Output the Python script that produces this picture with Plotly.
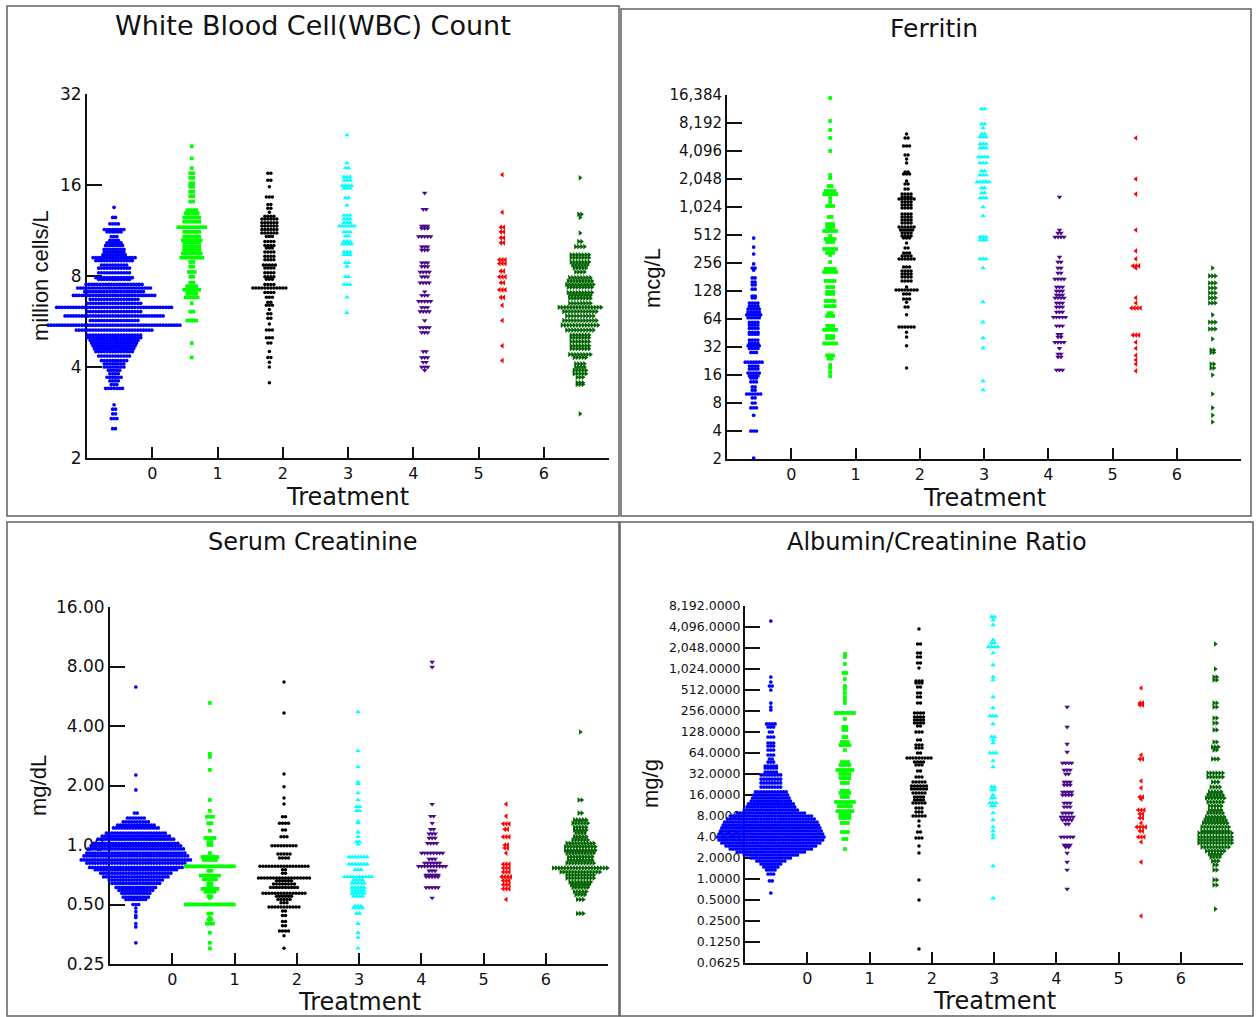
import math
import plotly.graph_objects as go

W, H = 1256, 1017

# ---------------- data: (value, count) rows for each treatment group ----------------
# White Blood Cell (WBC) Count, million cells/L
wbc_0 = [(13.5,1),(12.5,2),(11.9,4),(11.4,8),(11.2,6),(10.8,3),(10.5,4),(10.3,6),(10.1,7),(9.8,8),(9.6,8),(9.4,9),(9.2,16),(9.0,14),(8.7,10),(8.5,12),(8.2,12),(7.9,14),(7.8,12),(7.5,21),(7.3,27),(7.1,22),(6.9,30),(6.7,18),(6.5,20),(6.3,42),(6.1,20),(5.9,36),(5.7,18),(5.5,48),(5.3,28),(5.1,20),(5.0,20),(4.9,18),(4.8,17),(4.7,16),(4.6,15),(4.5,14),(4.35,12),(4.2,10),(4.1,8),(4.0,8),(3.9,5),(3.8,4),(3.7,6),(3.6,4),(3.5,3),(3.4,7),(3.0,1),(2.9,2),(2.8,2),(2.7,3),(2.5,2)]
wbc_1 = [(21.5,1),(19.6,1),(18.2,1),(17.5,2),(16.9,2),(16.2,2),(15.8,2),(15.2,2),(14.7,2),(14.1,2),(13.2,4),(12.9,5),(12.5,6),(12.1,6),(11.6,10),(11.2,6),(10.8,6),(10.5,7),(10.3,6),(10.0,6),(9.75,6),(9.5,7),(9.2,8),(8.9,2),(8.6,2),(8.25,3),(7.95,2),(7.6,2),(7.4,4),(7.2,6),(7.0,4),(6.8,5),(6.5,1),(6.1,2),(5.7,4),(4.8,1),(4.3,1)]
wbc_2 = [(17.5,2),(16.6,2),(15.8,1),(14.6,3),(13.8,2),(13.4,2),(13.0,1),(12.6,4),(12.35,6),(12.0,6),(11.7,6),(11.4,6),(11.1,6),(10.8,3),(10.4,4),(10.1,4),(9.9,3),(9.6,4),(9.3,4),(9.05,4),(8.7,5),(8.5,4),(8.2,4),(7.95,4),(7.8,3),(7.5,4),(7.3,12),(7.05,4),(6.8,3),(6.55,2),(6.4,3),(6.2,1),(6.0,2),(5.8,2),(5.55,1),(5.3,3),(5.0,3),(4.8,2),(4.5,1),(4.3,2),(4.15,1),(4.0,1),(3.55,1)]
wbc_3 = [(23.4,1),(18.9,1),(18.2,2),(17.0,3),(16.6,3),(15.9,4),(15.6,3),(14.5,2),(13.7,1),(12.7,3),(12.35,3),(12.0,3),(11.7,6),(11.2,3),(10.85,2),(10.4,3),(10.2,4),(9.6,3),(9.4,3),(8.85,2),(8.6,1),(7.95,2),(7.5,3),(6.8,1),(6.05,1)]
wbc_4 = [(15.05,1),(13.3,2),(11.7,3),(11.5,3),(10.8,5),(10.0,3),(9.75,3),(8.85,3),(8.6,3),(8.25,4),(7.95,3),(7.6,4),(7.1,1),(6.9,3),(6.6,5),(6.3,3),(6.1,4),(5.7,1),(5.4,4),(5.2,3),(4.5,2),(4.3,3),(4.15,2),(4.0,3),(3.9,1)]
wbc_5 = [(17.3,1),(13.0,1),(11.6,2),(11.2,2),(10.7,2),(10.3,2),(9.05,3),(8.8,3),(8.3,2),(7.95,3),(7.6,2),(7.2,3),(6.8,2),(6.4,1),(5.7,1),(4.7,1),(4.2,1)]
wbc_6 = [(16.9,1),(12.8,2),(12.5,1),(11.1,1),(10.4,2),(10.0,4),(9.4,7),(9.2,7),(8.9,7),(8.7,6),(8.5,5),(8.25,4),(7.9,8),(7.7,9),(7.5,10),(7.35,9),(7.05,9),(6.9,8),(6.75,8),(6.5,8),(6.3,15),(6.1,12),(5.9,10),(5.7,12),(5.5,13),(5.3,10),(5.1,7),(5.0,7),(4.85,7),(4.7,7),(4.6,7),(4.4,8),(4.3,5),(4.1,4),(4.0,4),(3.9,5),(3.8,5),(3.7,3),(3.55,3),(3.5,3),(2.8,1)]

# Ferritin, mcg/L
fer_0 = [(475,1),(380,1),(320,1),(250,1),(226,2),(215,1),(177,2),(160,2),(149,2),(134,2),(113,2),(108,2),(95,4),(88,4),(82,5),(76,5),(71,6),(66,5),(59,4),(55,4),(51,4),(46,4),(44,4),(38,4),(35,4),(33,5),(31,4),(28,3),(22,7),(20,4),(18.6,4),(16.8,5),(15.6,4),(14.9,3),(13.5,3),(11.9,2),(11.0,2),(10.0,6),(9.1,2),(8.0,2),(7.1,3),(5.9,1),(4.0,3),(2.05,1)]
fer_1 = [(15220,1),(8610,1),(6890,1),(5650,1),(4096,1),(2260,1),(2100,1),(1720,2),(1520,4),(1410,5),(1280,1),(1160,1),(1050,3),(800,2),(672,3),(624,3),(565,5),(500,1),(464,4),(431,3),(362,5),(328,3),(312,1),(262,1),(221,4),(205,5),(164,4),(141,3),(125,3),(119,3),(100,4),(88,4),(74,2),(69,3),(54,3),(49,5),(42,3),(40,3),(35,5),(26,3),(24,2),(20.5,1),(19.0,1),(17.2,1),(15.6,1)]
fer_2 = [(6240,1),(5650,2),(4640,3),(3710,2),(3360,1),(3040,1),(2440,2),(2320,3),(1950,1),(1810,2),(1600,2),(1410,4),(1310,4),(1250,6),(1160,4),(1076,4),(999,4),(861,4),(800,4),(742,4),(689,4),(624,6),(580,5),(538,4),(500,4),(475,3),(420,1),(371,2),(328,3),(304,4),(283,6),(232,3),(210,4),(195,4),(181,4),(164,4),(141,1),(131,8),(119,3),(105,3),(97,1),(86,2),(71,1),(52.5,6),(46,1),(41,1),(33,1),(19,1)]
fer_3 = [(11585,2),(7990,2),(7235,1),(6240,2),(5790,3),(4870,3),(4410,3),(3530,4),(3040,3),(2500,2),(2260,3),(1900,5),(1640,2),(1450,2),(1280,3),(1024,1),(820,1),(487,3),(452,3),(283,3),(226,1),(97.5,1),(59,1),(40,1),(31,1),(13.8,1),(11.0,1)]
fer_4 = [(1310,1),(580,1),(538,2),(487,4),(297,1),(262,2),(226,2),(200,2),(172,4),(141,3),(128,3),(116,3),(108,4),(95,3),(86,3),(76,3),(67,5),(54,3),(44,2),(41,2),(36,4),(31,1),(27,2),(25,2),(18.1,3)]
fer_5 = [(5650,1),(2048,1),(1410,1),(580,1),(345,1),(283,1),(238,3),(226,1),(108,1),(95,1),(84,4),(43,3),(36,1),(31,1),(26,1),(23.2,1),(21,1),(17.7,1)]
fer_6 = [(226,1),(186,3),(156,3),(138,3),(122,3),(108,3),(95,3),(71,1),(59,3),(50,3),(39,1),(29.7,2),(28,2),(21,2),(19,2),(16,1),(10.0,1),(7.1,1),(5.9,1),(5.0,1),(2.0,1)]

# Serum Creatinine, mg/dL
scr_0 = [(6.3,1),(2.26,1),(1.9,1),(1.45,2),(1.37,7),(1.31,10),(1.26,14),(1.22,17),(1.15,22),(1.11,25),(1.07,28),(1.02,31),(0.99,33),(0.955,35),(0.91,36),(0.88,38),(0.84,40),(0.81,36),(0.77,34),(0.75,30),(0.72,26),(0.69,24),(0.665,20),(0.64,18),(0.61,15),(0.59,13),(0.57,11),(0.545,10),(0.53,8),(0.50,3),(0.48,1),(0.46,1),(0.44,1),(0.43,1),(0.40,1),(0.385,1),(0.32,1)]
scr_1 = [(5.23,1),(2.89,1),(2.79,1),(2.40,1),(1.69,1),(1.49,1),(1.39,3),(1.29,2),(1.18,1),(1.085,4),(1.035,2),(1.0,2),(0.91,1),(0.87,6),(0.84,5),(0.78,17),(0.74,2),(0.70,7),(0.67,5),(0.64,2),(0.62,2),(0.60,6),(0.58,4),(0.55,2),(0.54,1),(0.50,17),(0.45,2),(0.43,1),(0.42,2),(0.40,3),(0.36,1),(0.32,1),(0.30,1)]
scr_2 = [(6.68,1),(4.65,1),(2.29,1),(1.97,1),(1.73,1),(1.61,1),(1.39,2),(1.29,4),(1.19,2),(1.10,3),(0.99,9),(0.90,5),(0.86,4),(0.78,17),(0.75,2),(0.72,2),(0.68,18),(0.66,6),(0.635,8),(0.61,10),(0.57,15),(0.55,6),(0.53,5),(0.51,3),(0.486,11),(0.464,2),(0.44,2),(0.41,2),(0.39,2),(0.367,4),(0.347,1),(0.30,1)]
scr_3 = [(4.71,1),(2.99,1),(2.48,1),(2.08,1),(2.04,1),(1.83,1),(1.69,1),(1.56,2),(1.49,2),(1.31,1),(1.29,1),(1.16,1),(1.10,1),(1.035,2),(1.01,1),(0.87,7),(0.80,7),(0.75,3),(0.69,10),(0.665,4),(0.64,5),(0.61,5),(0.59,5),(0.57,5),(0.55,4),(0.49,3),(0.48,4),(0.45,2),(0.40,1),(0.36,1),(0.34,1),(0.30,1)]
scr_4 = [(8.43,1),(7.95,1),(1.61,1),(1.40,2),(1.29,1),(1.20,2),(1.14,3),(1.085,3),(1.02,4),(0.91,8),(0.85,3),(0.81,6),(0.78,10),(0.74,3),(0.705,5),(0.69,5),(0.61,5),(0.54,1)]
scr_5 = [(1.61,1),(1.40,1),(1.28,3),(1.20,2),(1.10,3),(1.0,2),(0.966,2),(0.91,1),(0.80,3),(0.765,3),(0.73,3),(0.69,4),(0.66,3),(0.63,3),(0.60,3),(0.53,1)]
scr_6 = [(3.73,1),(1.69,2),(1.45,2),(1.34,5),(1.29,6),(1.23,5),(1.19,5),(1.15,4),(1.10,5),(1.06,6),(1.02,10),(0.98,11),(0.94,11),(0.91,10),(0.87,9),(0.84,9),(0.81,10),(0.765,19),(0.73,14),(0.705,10),(0.68,10),(0.65,8),(0.63,7),(0.61,6),(0.58,5),(0.56,4),(0.53,3),(0.45,3)]

# Albumin/Creatinine Ratio, mg/g
acr_0 = [(4995,1),(786,1),(667,1),(584,2),(512,1),(333,1),(292,1),(265,1),(167,4),(151,3),(128,2),(108.5,3),(89,3),(80.6,3),(70.7,3),(59.9,3),(52.5,2),(47.5,3),(41.7,5),(39.0,5),(34.2,5),(31.0,8),(27.1,8),(23.8,8),(20.8,8),(17.7,12),(16.0,13),(14.5,14),(13.1,15),(11.9,17),(10.8,18),(9.75,20),(8.83,25),(8.0,30),(7.24,32),(6.56,34),(5.94,35),(5.39,36),(4.88,37),(4.42,38),(4.0,39),(3.62,38),(3.28,36),(2.97,33),(2.69,30),(2.44,25),(2.21,20),(2.0,15),(1.81,11),(1.64,8),(1.49,6),(1.35,4),(1.18,3),(0.94,2),(0.63,1)]
acr_1 = [(1680,1),(1521,1),(1208,1),(898,2),(736,1),(584,1),(529,1),(464,1),(406,1),(368,1),(333,1),(240,7),(197,1),(151,2),(137,2),(108.5,2),(92,3),(83,4),(70.7,1),(47.5,3),(43.1,4),(36.5,6),(32,4),(28.0,4),(23.8,3),(18.3,3),(17.1,4),(15.0,3),(12.7,7),(11.1,5),(9.4,6),(8.3,4),(7.5,4),(6.35,3),(4.72,3),(3.74,2),(2.69,1)]
acr_2 = [(3835,1),(2337,2),(1737,2),(1521,2),(1249,2),(1059,1),(689,3),(645,3),(565,2),(464,2),(406,2),(333,2),(240,4),(210,4),(190,4),(172,4),(156,2),(128,3),(98,2),(83,3),(75.5,3),(64,2),(54.3,9),(47.5,4),(43.1,3),(35.3,2),(29.0,3),(24.6,5),(21.5,6),(19.5,6),(17.1,5),(15.0,4),(13.6,4),(12.3,5),(10.4,3),(9.1,3),(8.0,5),(6.8,1),(5.75,1),(4.72,2),(3.87,3),(2.97,1),(2.36,1),(0.97,1),(0.5,1),(0.099,1)]
acr_3 = [(5700,2),(5160,1),(4375,1),(2667,1),(2416,2),(2117,4),(1737,1),(1168,1),(786,1),(712,1),(406,1),(283,1),(217,3),(167,1),(108.5,2),(98,1),(89,1),(64,3),(49.1,1),(40.3,1),(20.8,2),(18.9,2),(16.0,1),(14.5,2),(12.3,3),(11.1,2),(8.83,1),(7.0,1),(5.56,1),(4.88,1),(4.27,1),(3.87,1),(1.54,1),(0.53,1)]
acr_4 = [(292,1),(151,1),(86.2,1),(66.2,1),(46.0,4),(36.5,3),(32,2),(24.6,3),(22.3,3),(17.7,4),(16,4),(12.3,3),(10.8,3),(8.83,4),(7.74,5),(7.0,4),(6.14,2),(4.0,5),(3.07,3),(2.87,2),(2.36,1),(1.75,1),(1.35,1),(0.72,1)]
acr_5 = [(547,1),(333,2),(312,2),(59.9,1),(52.5,2),(25.4,1),(20.2,1),(15.0,2),(14.0,1),(9.75,3),(8.55,2),(7.5,2),(6.35,1),(5.56,4),(4.88,2),(4.0,3),(3.39,1),(1.75,1),(0.295,1)]
acr_6 = [(2337,1),(1024,1),(786,2),(712,2),(333,2),(292,2),(203,2),(172,2),(137,2),(92,2),(78,3),(70.7,2),(52.5,3),(33.1,6),(29.0,6),(24.6,3),(20.8,4),(17.7,5),(16.0,6),(14.5,7),(12.7,6),(11.1,5),(9.75,5),(8.83,6),(7.74,7),(7.0,8),(6.35,9),(5.56,10),(4.88,10),(4.56,12),(4.0,12),(3.62,12),(3.28,12),(2.87,10),(2.52,7),(2.28,5),(2.07,4),(1.81,3),(1.59,2),(1.35,2),(0.97,2),(0.82,2),(0.37,1)]

# axis ticks / labels
treatment_labels = ["0", "1", "2", "3", "4", "5", "6", ""]
wbc_ticks = [2, 4, 8, 16, 32]
wbc_ticklabels = ["2", "4", "8", "16", "32"]
fer_ticks = [2, 4, 8, 16, 32, 64, 128, 256, 512, 1024, 2048, 4096, 8192, 16384]
fer_ticklabels = ["2", "4", "8", "16", "32", "64", "128", "256", "512", "1,024", "2,048", "4,096", "8,192", "16,384"]
scr_ticks = [0.25, 0.5, 1, 2, 4, 8, 16]
scr_ticklabels = ["0.25", "0.50", "1.00", "2.00", "4.00", "8.00", "16.00"]
acr_ticks = [0.0625, 0.125, 0.25, 0.5, 1, 2, 4, 8, 16, 32, 64, 128, 256, 512, 1024, 2048, 4096, 8192]
acr_ticklabels = ["0.0625", "0.1250", "0.2500", "0.5000", "1.0000", "2.0000", "4.0000", "8.0000",
                  "16.0000", "32.0000", "64.0000", "128.0000", "256.0000", "512.0000",
                  "1,024.0000", "2,048.0000", "4,096.0000", "8,192.0000"]

# ---------------- styling ----------------
COLORS = ["#0000FF", "#00FF00", "#000000", "#00FFFF", "#4B0A8A", "#FF0000", "#006400"]
SYMBOLS = ["circle", "square", "circle", "triangle-up", "triangle-down", "triangle-left", "triangle-right"]
SIZES = [3.7, 3.7, 3.5, 4.9, 4.9, 4.9, 4.9]
SPACING = [2.8, 3.0, 3.0, 3.0, 3.0, 3.0, 3.0]
TXT = "DejaVu Sans"
YTXT = "Liberation Sans, Arial"
INK = "#111111"

panels = [
    dict(groups=[wbc_0, wbc_1, wbc_2, wbc_3, wbc_4, wbc_5, wbc_6], x0=87, x1=609, ytop=94, ybot=458,
         yr=(2, 32), ticks=wbc_ticks, labels=wbc_ticklabels, yfs=17,
         title="White Blood Cell(WBC) Count", tx=313, ty=26, tfs=27,
         ytitle="million cells/L", ytx=40, yty=276, xtx=347, xty=497,
         box=(7, 6, 619, 516)),
    dict(groups=[fer_0, fer_1, fer_2, fer_3, fer_4, fer_5, fer_6], x0=727, x1=1241, ytop=95, ybot=459,
         yr=(2, 16384), ticks=fer_ticks, labels=fer_ticklabels, yfs=15,
         title="Ferritin", tx=934, ty=28, tfs=25,
         ytitle="mcg/L", ytx=652, yty=278, xtx=984, xty=498,
         box=(621, 9, 1251, 516)),
    dict(groups=[scr_0, scr_1, scr_2, scr_3, scr_4, scr_5, scr_6], x0=110, x1=608, ytop=607, ybot=964,
         yr=(0.25, 16), ticks=scr_ticks, labels=scr_ticklabels, yfs=17,
         title="Serum Creatinine", tx=313, ty=542, tfs=24,
         ytitle="mg/dL", ytx=38, yty=786, xtx=359, xty=1002,
         box=(7, 522, 619, 1016)),
    dict(groups=[acr_0, acr_1, acr_2, acr_3, acr_4, acr_5, acr_6], x0=745, x1=1243, ytop=606, ybot=963,
         yr=(0.0625, 8192), ticks=acr_ticks, labels=acr_ticklabels, yfs=12.5,
         title="Albumin/Creatinine Ratio", tx=937, ty=542, tfs=24,
         ytitle="mg/g", ytx=650, yty=784, xtx=994, xty=1001,
         box=(620, 522, 1253, 1016)),
]

GROUP_POS = [-0.585 + 1.19 * k for k in range(7)]

fig = go.Figure()
layout = dict(width=W, height=H, autosize=False,
              margin=dict(l=0, r=0, t=0, b=0, pad=0, autoexpand=False),
              paper_bgcolor="white", plot_bgcolor="rgba(0,0,0,0)", showlegend=False)
shapes, annotations = [], []

# empty traces so that every visible axis pair forms a drawn subplot
for p_i in range(4):
    n = "" if p_i == 0 else str(p_i + 1)
    fig.add_trace(go.Scatter(x=[], y=[], mode="markers", xaxis="x" + n, yaxis="y" + n,
                             hoverinfo="skip"))

for p_i, p in enumerate(panels):
    n = "" if p_i == 0 else str(p_i + 1)
    dn = str(p_i + 5)  # hidden axes used for the dots (wider so swarms may cross the y axis line)
    xa, ya, xd, yd = "x" + n, "y" + n, "x" + dn, "y" + dn
    ppu = (p["x1"] - p["x0"]) / 8.0  # pixels per x unit
    ydom = [1 - p["ybot"] / H, 1 - p["ytop"] / H]
    yrange = [math.log10(p["yr"][0]), math.log10(p["yr"][1])]
    for g, rows in enumerate(p["groups"]):
        xs, ys = [], []
        for v, c in rows:
            for i in range(c):
                xs.append(GROUP_POS[g] + (i - (c - 1) / 2.0) * SPACING[g] / ppu)
                ys.append(v)
        fig.add_trace(go.Scatter(x=xs, y=ys, mode="markers", xaxis=xd, yaxis=yd, cliponaxis=False,
                                 marker=dict(color=COLORS[g], symbol=SYMBOLS[g], size=SIZES[g],
                                             line=dict(width=0)),
                                 hoverinfo="skip"))
    # hidden data axes
    layout["xaxis" + dn] = dict(domain=[max(0.0, (p["x0"] - ppu) / W), p["x1"] / W], anchor=yd,
                                range=[-2, 7], visible=False, showgrid=False, zeroline=False)
    layout["yaxis" + dn] = dict(domain=ydom, anchor=xd, type="log", range=yrange,
                                visible=False, showgrid=False, zeroline=False)
    # visible axes
    layout["xaxis" + n] = dict(domain=[p["x0"] / W, p["x1"] / W], anchor=ya, range=[-1, 7],
                               tickmode="array", tickvals=list(range(8)), ticktext=treatment_labels,
                               ticks="inside", ticklen=11, tickwidth=2, tickcolor=INK,
                               showline=True, linewidth=2, linecolor=INK, showgrid=False,
                               zeroline=False, tickfont=dict(family=TXT, size=16, color=INK))
    layout["yaxis" + n] = dict(domain=ydom, anchor=xa, type="log", range=yrange,
                               tickmode="array", tickvals=p["ticks"], ticktext=p["labels"],
                               ticks="inside", ticklen=15, tickwidth=2, tickcolor=INK,
                               showline=True, linewidth=2, linecolor=INK, showgrid=False,
                               zeroline=False, tickfont=dict(family=TXT, size=p["yfs"], color=INK))
    bx0, by0, bx1, by1 = p["box"]
    shapes.append(dict(type="rect", xref="paper", yref="paper", x0=bx0 / W, x1=bx1 / W,
                       y0=1 - by1 / H, y1=1 - by0 / H, line=dict(color="#606060", width=1.5),
                       layer="below"))
    annotations.append(dict(text=p["title"], x=p["tx"] / W, y=1 - p["ty"] / H, xref="paper", yref="paper",
                            xanchor="center", yanchor="middle", showarrow=False,
                            font=dict(family=TXT, size=p["tfs"], color=INK)))
    annotations.append(dict(text=p["ytitle"], x=p["ytx"] / W, y=1 - p["yty"] / H, xref="paper", yref="paper",
                            xanchor="center", yanchor="middle", showarrow=False, textangle=-90,
                            font=dict(family=YTXT, size=22, color=INK)))
    annotations.append(dict(text="Treatment", x=p["xtx"] / W, y=1 - p["xty"] / H, xref="paper", yref="paper",
                            xanchor="center", yanchor="middle", showarrow=False,
                            font=dict(family=TXT, size=24, color=INK)))

layout["shapes"] = shapes
layout["annotations"] = annotations
fig.update_layout(**layout)
fig.write_html("out.html")
